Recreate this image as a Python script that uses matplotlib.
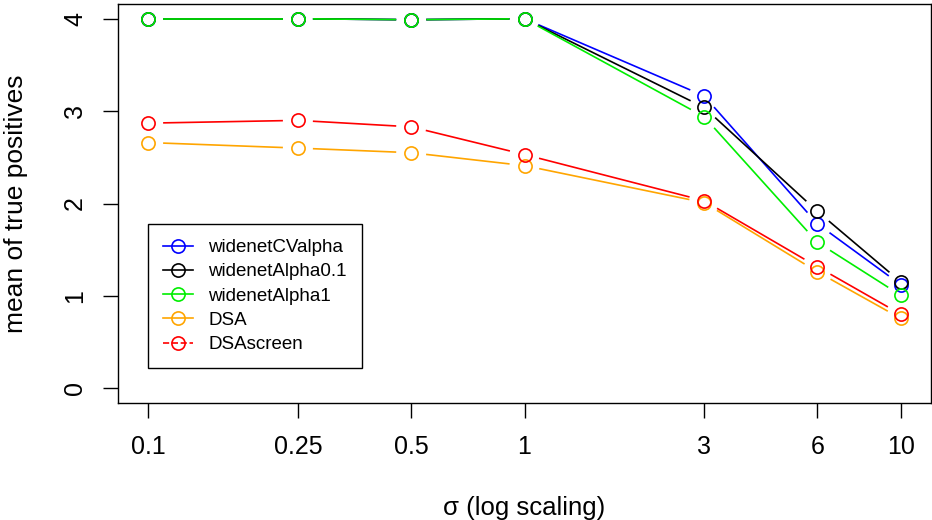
import numpy as np
import matplotlib.pyplot as plt
from matplotlib.lines import Line2D

plt.rcParams['font.family'] = ['Liberation Sans', 'DejaVu Sans']

sigma = [0.1, 0.25, 0.5, 1, 3, 6, 10]
sigma_labels = ['0.1', '0.25', '0.5', '1', '3', '6', '10']

cv_alpha = [4.0, 4.0, 3.99, 4.0, 3.165, 1.78, 1.12]
alpha01 = [4.0, 4.0, 3.99, 4.0, 3.04, 1.915, 1.15]
alpha1 = [4.0, 4.0, 3.99, 4.0, 2.94, 1.58, 1.005]
dsa = [2.66, 2.60, 2.55, 2.41, 2.01, 1.26, 0.755]
dsa_screen = [2.87, 2.90, 2.83, 2.53, 2.03, 1.315, 0.80]

series = [
    ('widenetCValpha', cv_alpha, '#0000FF', '-'),
    ('widenetAlpha0.1', alpha01, 'black', '-'),
    ('widenetAlpha1', alpha1, '#00EE00', '-'),
    ('DSA', dsa, 'orange', '-'),
    ('DSAscreen', dsa_screen, 'red', '--'),
]

fig = plt.figure(figsize=(9.32, 5.2), dpi=100)
ax = fig.add_axes([118 / 932, 1 - 403 / 520, 813 / 932, 399 / 520])
ax.set_xscale('log')
ax.set_xlim(10 ** -1.08, 10 ** 1.08)
ax.set_ylim(-0.16, 4.16)

gap = 15  # pixels, like R type="b"
for name, y, col, ls in series:
    pts = ax.transData.transform(np.column_stack([sigma, y]))
    for p0, p1 in zip(pts[:-1], pts[1:]):
        d = p1 - p0
        L = np.hypot(*d)
        if L <= 2 * gap:
            continue
        u = d / L
        seg = ax.transData.inverted().transform(np.array([p0 + u * gap, p1 - u * gap]))
        ax.plot(seg[:, 0], seg[:, 1], color=col, lw=1.2, solid_capstyle='butt')
    ax.plot(sigma, y, 'o', ms=9.5, mfc='none', mec=col, mew=1.2, ls='none')

ax.set_xticks(sigma)
ax.set_xticklabels(sigma_labels)
ax.minorticks_off()
ax.set_yticks([0, 1, 2, 3, 4])
ax.set_yticklabels(['0', '1', '2', '3', '4'], rotation=90, va='center')
ax.tick_params(axis='both', length=10.8, width=1, labelsize=18, direction='out')
ax.tick_params(axis='x', pad=12.5)
ax.tick_params(axis='y', pad=11.5)
for s in ax.spines.values():
    s.set_linewidth(1)

ax.set_xlabel('σ (log scaling)', fontsize=18.5, va='center')
ax.xaxis.set_label_coords(0.5, -(508 - 403) / 399)
ax.set_ylabel('mean of true positives', fontsize=19, va='center')
ax.yaxis.set_label_coords(-(118 - 16) / 813, 0.5)

handles = [Line2D([], [], color=c, ls=l, lw=1.2, marker='o', ms=9.5, mfc='none', mew=1.2)
           for _, _, c, l in series]
leg = ax.legend(handles, [s[0] for s in series], loc='upper left',
                bbox_to_anchor=(30 / 813, 1 - 220 / 399), borderaxespad=0,
                fontsize=13.5, fancybox=False, framealpha=1, edgecolor='black',
                borderpad=0.8, handlelength=1.6, labelspacing=0.38, handletextpad=0.8)
leg.get_frame().set_linewidth(1)

fig.savefig('out.png', dpi=100)
